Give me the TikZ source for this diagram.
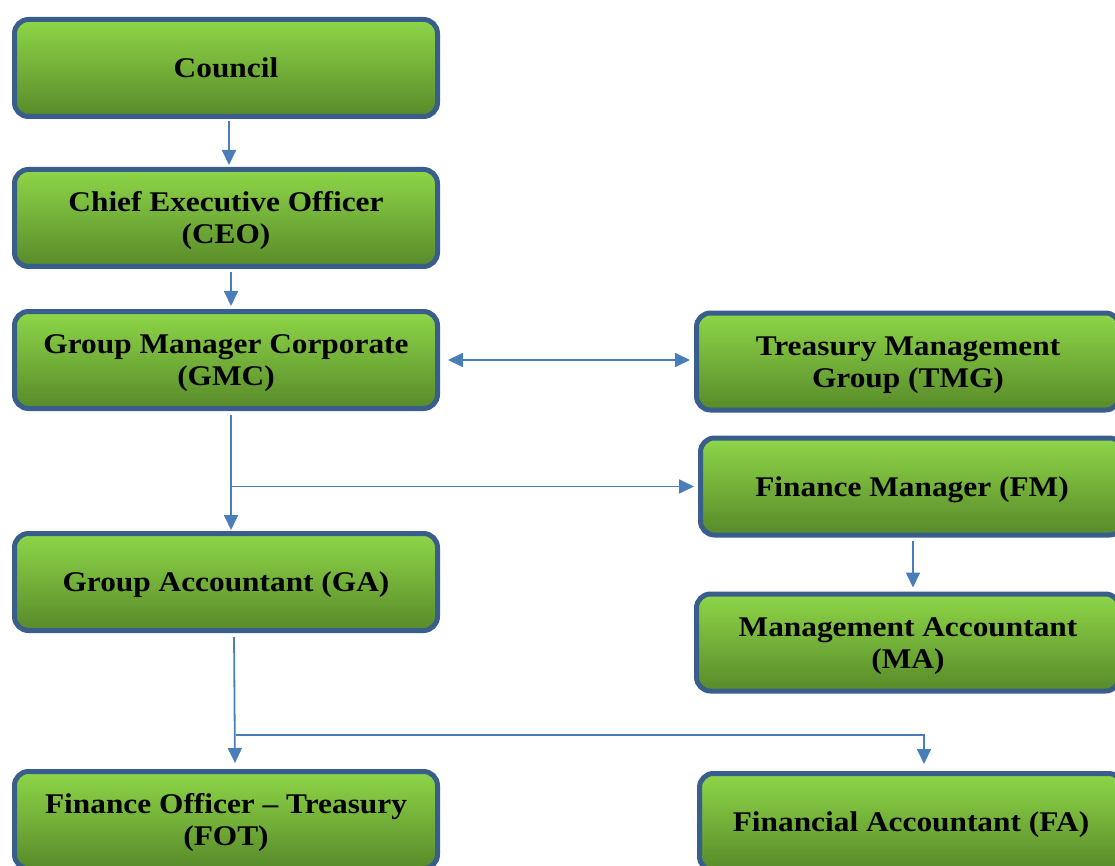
\documentclass[tikz,border=0pt]{standalone}
\usepackage{fontspec}
\setmainfont{Liberation Serif}[FakeStretch=1.1]
\usetikzlibrary{arrows.meta,calc}
\definecolor{boxedge}{RGB}{58,94,140}
\definecolor{boxtop}{RGB}{142,214,72}
\definecolor{boxbot}{RGB}{88,138,42}
\definecolor{linkblue}{RGB}{74,126,187}
\tikzset{
    orgbox/.style={draw=boxedge, line width=5pt, rounded corners=14pt,
        top color=boxtop, bottom color=boxbot,
        minimum width=423pt, minimum height=97pt, inner sep=0pt,
        text height=26pt, text depth=7pt,
        align=center, font=\fontsize{28.5}{32}\selectfont\bfseries},
    twoline/.style={orgbox, text height=58pt},
    link/.style={draw=linkblue, line width=1.8pt,
        -{Triangle[length=15pt,width=14pt]}},
}

\begin{document}
\begin{tikzpicture}[x=1pt, y=-1pt]
\useasboundingbox (0,0) rectangle (1115,866);
\clip (0,0) rectangle (1115,866);
% left column
\node[orgbox] (council) at (226,68) {Council};
\node[twoline] (ceo) at (226,218) {Chief Executive Officer\\(CEO)};
\node[twoline] (gmc) at (226,360) {Group Manager Corporate\\(GMC)};
\node[orgbox] (ga) at (226,582) {Group Accountant (GA)};
\node[twoline] (fot) at (226,820) {Finance Officer -- Treasury\\(FOT)};
% right column
\node[twoline] (tmg) at (908,361.5) {Treasury Management\\Group (TMG)};
\node[orgbox] (fm) at (912,486.5) {Finance Manager (FM)};
\node[twoline] (ma) at (908,642.5) {Management Accountant\\(MA)};
\node[orgbox] (fa) at (911,822) {Financial Accountant (FA)};

\coordinate (gsplit) at ([xshift=5pt]gmc.south |- fm.west);
\coordinate (asplit) at (236,735);

\draw[link, shorten <=2pt, shorten >=2pt] ([xshift=3pt]council.south) -- ([xshift=3pt]ceo.north);
\draw[link, shorten <=3pt, shorten >=3pt] ([xshift=5pt]ceo.south) -- ([xshift=5pt]gmc.north);
\draw[link, {Triangle[length=15pt,width=14pt]}-{Triangle[length=15pt,width=14pt]}, shorten <=8pt, shorten >=4pt] (gmc.east) -- (gmc.east -| tmg.west);
\draw[link, shorten <=4pt, shorten >=1pt] ([xshift=5pt]gmc.south) -- ([xshift=5pt]ga.north);
\draw[link, shorten >=4pt] (gsplit) -- (fm.west);
\draw[link, shorten <=3pt, shorten >=4pt] ([xshift=1pt]fm.south) -- ([xshift=5pt]ma.north);
\draw[link, shorten <=4pt, shorten >=6pt] ([xshift=8pt]ga.south) -- ([xshift=9pt]fot.north);
\draw[link, shorten >=7pt] (asplit) -| ([xshift=13pt]fa.north);
\end{tikzpicture}
\end{document}
